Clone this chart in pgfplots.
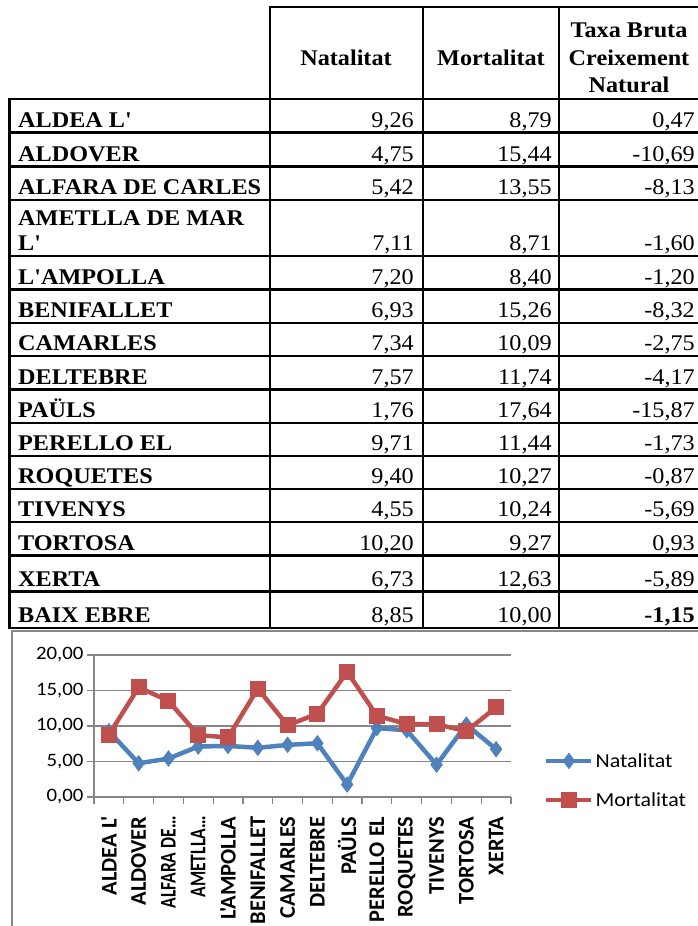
\documentclass[border=0pt]{standalone}
\usepackage{fontspec}
\setmainfont{Liberation Serif}[FakeStretch=1.08, Ligatures=TeXOff]
\newfontfamily\calib{Carlito}[FakeStretch=1.1, Ligatures=TeXOff]
\newfontfamily\calibr{Carlito}[Ligatures=TeXOff]
\usepackage{graphicx}
\usepackage{pgfplots}
\pgfplotsset{compat=1.18}

\definecolor{nat}{HTML}{4F81BD}
\definecolor{mor}{HTML}{C0504D}
\definecolor{axgray}{HTML}{868686}

\newcommand\tf{\fontsize{22.5}{27}\selectfont}
% one table row: name, natalitat, mortalitat, taxa, bottom line y
\newcommand\trow[5]{%
  \node[anchor=base west, inner sep=0pt, font=\tf\bfseries] at (18,-#5+5.5) {#1};
  \node[anchor=base east, inner sep=0pt, font=\tf] at (414,-#5+5.5) {#2};
  \node[anchor=base east, inner sep=0pt, font=\tf] at (552,-#5+5.5) {#3};
  \node[anchor=base east, inner sep=0pt, font=\tf] at (695,-#5+5.5) {#4};
  \draw[line width=2.5bp] (9,-#5) -- (698,-#5);
}

\begin{document}
\begin{tikzpicture}[x=1bp, y=1bp]
\path[use as bounding box] (0,0) rectangle (698,-926);

% ---- table ----
\draw[line width=2.5bp] (270,-7) -- (698,-7);
\draw[line width=2.5bp] (9,-99) -- (698,-99);
\foreach \xx in {270,423,559} \draw[line width=2.5bp] (\xx,-6) -- (\xx,-629);
\draw[line width=3bp] (9,-98) -- (9,-629);

\node[anchor=base, inner sep=0pt, font=\tf\bfseries] at (346,-65) {Natalitat};
\node[anchor=base, inner sep=0pt, font=\tf\bfseries] at (491,-65) {Mortalitat};
\node[anchor=base, inner sep=0pt, font=\tf\bfseries] at (629,-37) {Taxa Bruta};
\node[anchor=base, inner sep=0pt, font=\tf\bfseries] at (629,-65) {Creixement};
\node[anchor=base, inner sep=0pt, font=\tf\bfseries] at (629,-92) {Natural};

\trow{ALDEA L'}{9,26}{8,79}{0,47}{132.5}
\trow{ALDOVER}{4,75}{15,44}{-10,69}{166.5}
\trow{ALFARA DE CARLES}{5,42}{13,55}{-8,13}{200}
\node[anchor=base west, inner sep=0pt, font=\tf\bfseries] at (18,-225) {AMETLLA DE MAR};
\trow{L'}{7,11}{8,71}{-1,60}{256}
\trow{L'AMPOLLA}{7,20}{8,40}{-1,20}{289.5}
\trow{BENIFALLET}{6,93}{15,26}{-8,32}{323}
\trow{CAMARLES}{7,34}{10,09}{-2,75}{356}
\trow{DELTEBRE}{7,57}{11,74}{-4,17}{389.5}
\trow{PAÜLS}{1,76}{17,64}{-15,87}{423}
\trow{PERELLO EL}{9,71}{11,44}{-1,73}{456}
\trow{ROQUETES}{9,40}{10,27}{-0,87}{489}
\trow{TIVENYS}{4,55}{10,24}{-5,69}{522}
\trow{TORTOSA}{10,20}{9,27}{0,93}{555.5}
\trow{XERTA}{6,73}{12,63}{-5,89}{591.5}
\trow{BAIX EBRE}{8,85}{10,00}{\textbf{-1,15}}{628}

% ---- chart frame ----
\draw[axgray, line width=2bp] (12,-926) -- (12,-631) -- (698,-631);
\coordinate (chartsw) at (94,-797);

% ---- chart ----
\begin{axis}[
  at={(chartsw)}, anchor=south west,
  scale only axis, width=417bp, height=142bp,
  xmin=-0.5, xmax=13.5, ymin=0, ymax=20,
  ytick={0,5,...,20},
  xtick={0,...,13},
  xticklabels={{ALDEA L'},ALDOVER,{\scalebox{0.78}[1]{ALFARA DE…}},{\scalebox{0.78}[1]{AMETLLA…}},{L'AMPOLLA},BENIFALLET,CAMARLES,DELTEBRE,PAÜLS,{PERELLO EL},ROQUETES,TIVENYS,TORTOSA,XERTA},
  minor xtick={-0.5,0.5,...,13.5},
  axis lines*=left,
  axis line style={-, draw=axgray, line width=1.2bp},
  ymajorgrids,
  grid style={draw=axgray, line width=1.2bp},
  tick align=outside,
  major tick length=7bp, minor tick length=7bp,
  major x tick style={draw=none},
  minor x tick style={draw=axgray, line width=1.2bp},
  ytick style={draw=axgray, line width=1.2bp},
  yticklabel style={font=\calib\fontsize{19}{22}\selectfont,
    /pgf/number format/.cd, fixed, fixed zerofill, precision=2, use comma,
    assume math mode=true},
  xticklabel shift=9bp,
  xticklabel style={rotate=90, anchor=east, font=\calibr\bfseries\fontsize{22.5}{26}\selectfont},
  legend style={at={(1.079,0.116)}, anchor=west, draw=none, fill=none,
    inner sep=0pt, row sep=20bp,
    font=\calib\fontsize{20}{23}\selectfont},
  legend cell align=left,
  legend image code/.code={%
    \draw[mark repeat=2, mark phase=2, #1] plot coordinates {(0bp,0bp) (22.5bp,0bp) (45bp,0bp)};},
]
\addplot[color=nat, line width=4.5bp, mark=diamond*, mark size=7.5bp,
  mark options={line width=1bp, fill=nat}]
  coordinates {(0,9.26)(1,4.75)(2,5.42)(3,7.11)(4,7.20)(5,6.93)(6,7.34)
               (7,7.57)(8,1.76)(9,9.71)(10,9.40)(11,4.55)(12,10.20)(13,6.73)};
\addlegendentry{Natalitat}
\addplot[color=mor, line width=4.5bp, mark=square*, mark size=7.5bp,
  mark options={line width=1bp, fill=mor}]
  coordinates {(0,8.79)(1,15.44)(2,13.55)(3,8.71)(4,8.40)(5,15.26)(6,10.09)
               (7,11.74)(8,17.64)(9,11.44)(10,10.27)(11,10.24)(12,9.27)(13,12.63)};
\addlegendentry{Mortalitat}
\end{axis}
\end{tikzpicture}
\end{document}
